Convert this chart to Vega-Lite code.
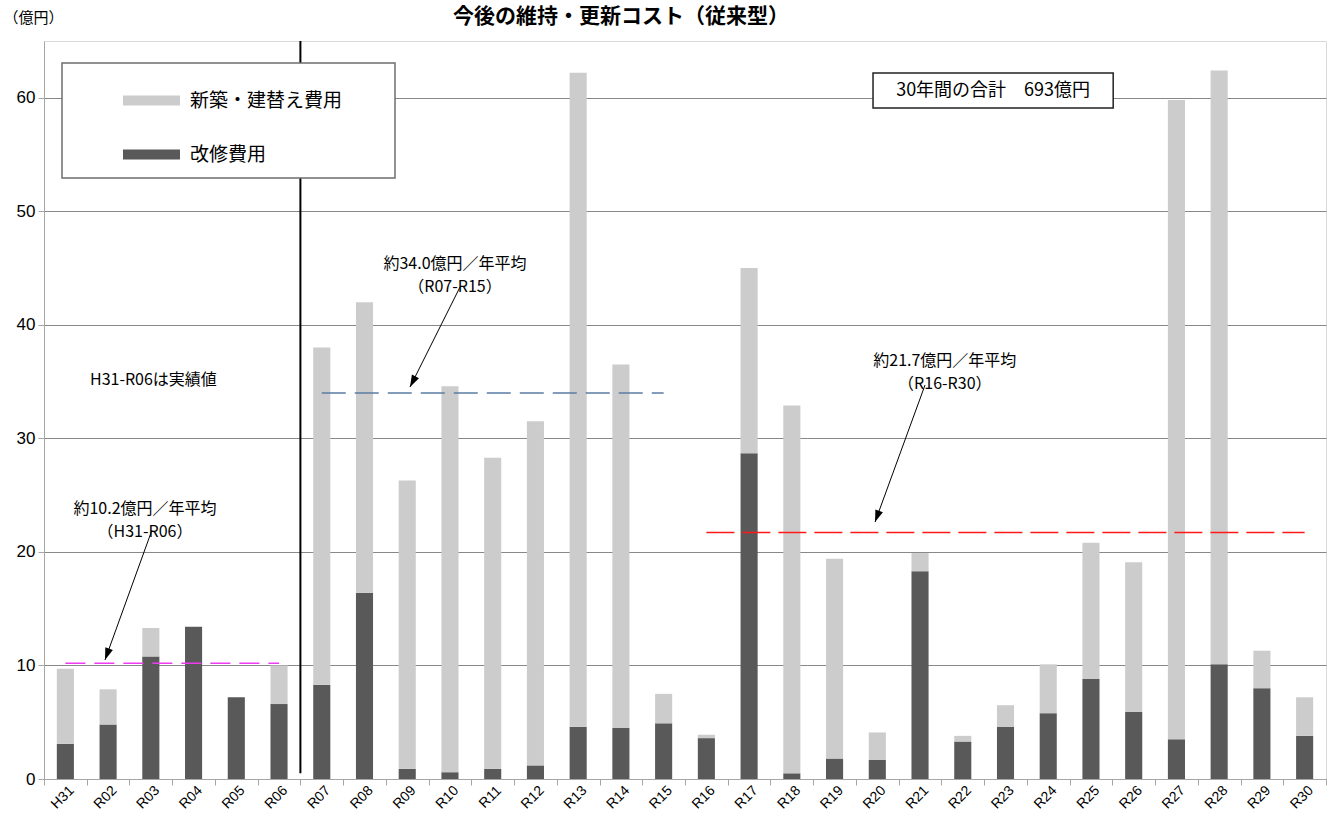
{
  "$schema": "https://vega.github.io/schema/vega-lite/v6.json",
  "width": 1282,
  "height": 738,
  "autosize": "none",
  "padding": {"left": 44, "top": 41, "right": 9, "bottom": 46},
  "background": "white",
  "config": {"view": {"stroke": "#d9d9d9", "strokeWidth": 1}, "font": "Noto Sans CJK JP"},
  "title": {"text": "今後の維持・更新コスト（従来型）", "font": "Noto Sans CJK JP", "fontSize": 21, "fontWeight": "bold", "anchor": "start", "frame": "group", "dx": 409, "offset": -17, "color": "#000000"},
  "resolve": {"scale": {"x": "independent"}, "axis": {"x": "independent"}},
  "layer": [
    {
      "data": {"values": [
        {"year": "H31", "kind": "改修費用", "value": 3.1}, {"year": "H31", "kind": "新築・建替え費用", "value": 6.6},
        {"year": "R02", "kind": "改修費用", "value": 4.8}, {"year": "R02", "kind": "新築・建替え費用", "value": 3.1},
        {"year": "R03", "kind": "改修費用", "value": 10.8}, {"year": "R03", "kind": "新築・建替え費用", "value": 2.5},
        {"year": "R04", "kind": "改修費用", "value": 13.4}, {"year": "R04", "kind": "新築・建替え費用", "value": 0},
        {"year": "R05", "kind": "改修費用", "value": 7.2}, {"year": "R05", "kind": "新築・建替え費用", "value": 0},
        {"year": "R06", "kind": "改修費用", "value": 6.6}, {"year": "R06", "kind": "新築・建替え費用", "value": 3.4},
        {"year": "R07", "kind": "改修費用", "value": 8.3}, {"year": "R07", "kind": "新築・建替え費用", "value": 29.7},
        {"year": "R08", "kind": "改修費用", "value": 16.4}, {"year": "R08", "kind": "新築・建替え費用", "value": 25.6},
        {"year": "R09", "kind": "改修費用", "value": 0.9}, {"year": "R09", "kind": "新築・建替え費用", "value": 25.4},
        {"year": "R10", "kind": "改修費用", "value": 0.6}, {"year": "R10", "kind": "新築・建替え費用", "value": 34.0},
        {"year": "R11", "kind": "改修費用", "value": 0.9}, {"year": "R11", "kind": "新築・建替え費用", "value": 27.4},
        {"year": "R12", "kind": "改修費用", "value": 1.2}, {"year": "R12", "kind": "新築・建替え費用", "value": 30.3},
        {"year": "R13", "kind": "改修費用", "value": 4.6}, {"year": "R13", "kind": "新築・建替え費用", "value": 57.6},
        {"year": "R14", "kind": "改修費用", "value": 4.5}, {"year": "R14", "kind": "新築・建替え費用", "value": 32.0},
        {"year": "R15", "kind": "改修費用", "value": 4.9}, {"year": "R15", "kind": "新築・建替え費用", "value": 2.6},
        {"year": "R16", "kind": "改修費用", "value": 3.6}, {"year": "R16", "kind": "新築・建替え費用", "value": 0.3},
        {"year": "R17", "kind": "改修費用", "value": 28.7}, {"year": "R17", "kind": "新築・建替え費用", "value": 16.3},
        {"year": "R18", "kind": "改修費用", "value": 0.5}, {"year": "R18", "kind": "新築・建替え費用", "value": 32.4},
        {"year": "R19", "kind": "改修費用", "value": 1.8}, {"year": "R19", "kind": "新築・建替え費用", "value": 17.6},
        {"year": "R20", "kind": "改修費用", "value": 1.7}, {"year": "R20", "kind": "新築・建替え費用", "value": 2.4},
        {"year": "R21", "kind": "改修費用", "value": 18.3}, {"year": "R21", "kind": "新築・建替え費用", "value": 1.6},
        {"year": "R22", "kind": "改修費用", "value": 3.3}, {"year": "R22", "kind": "新築・建替え費用", "value": 0.5},
        {"year": "R23", "kind": "改修費用", "value": 4.6}, {"year": "R23", "kind": "新築・建替え費用", "value": 1.9},
        {"year": "R24", "kind": "改修費用", "value": 5.8}, {"year": "R24", "kind": "新築・建替え費用", "value": 4.3},
        {"year": "R25", "kind": "改修費用", "value": 8.8}, {"year": "R25", "kind": "新築・建替え費用", "value": 12.0},
        {"year": "R26", "kind": "改修費用", "value": 5.9}, {"year": "R26", "kind": "新築・建替え費用", "value": 13.2},
        {"year": "R27", "kind": "改修費用", "value": 3.5}, {"year": "R27", "kind": "新築・建替え費用", "value": 56.3},
        {"year": "R28", "kind": "改修費用", "value": 10.1}, {"year": "R28", "kind": "新築・建替え費用", "value": 52.3},
        {"year": "R29", "kind": "改修費用", "value": 8.0}, {"year": "R29", "kind": "新築・建替え費用", "value": 3.3},
        {"year": "R30", "kind": "改修費用", "value": 3.8}, {"year": "R30", "kind": "新築・建替え費用", "value": 3.4}
      ]},
      "transform": [{"calculate": "datum.kind === '改修費用' ? 0 : 1", "as": "stackOrder"}],
      "layer": [
        {
          "mark": {"type": "bar", "strokeWidth": 0},
          "encoding": {
            "x": {
              "field": "year", "type": "nominal", "sort": null,
              "scale": {"paddingInner": 0.6, "paddingOuter": 0.3},
              "axis": {"title": null, "ticks": false, "grid": false, "labels": false, "domainColor": "#a6a6a6"}
            },
            "y": {
              "field": "value", "type": "quantitative", "stack": "zero",
              "scale": {"domain": [0, 65], "nice": false},
              "axis": {"title": "（億円）", "titleAngle": 0, "titleX": -11, "titleY": -24, "titleAlign": "center", "titleBaseline": "middle", "titleFont": "Noto Sans CJK JP", "titleFontSize": 15, "titleFontWeight": "normal", "titleColor": "#000000", "values": [0, 10, 20, 30, 40, 50, 60], "grid": true, "gridColor": "#888888", "gridWidth": 1, "domainColor": "#a6a6a6", "tickColor": "#a6a6a6", "tickSize": 6, "labelFont": "Liberation Sans", "labelFontSize": 17, "labelColor": "#000000", "labelPadding": 3}
            },
            "color": {
              "field": "kind", "type": "nominal",
              "scale": {"domain": ["新築・建替え費用", "改修費用"], "range": ["#cccccc", "#595959"]},
              "legend": {"orient": "none", "legendX": 79, "legendY": 31, "title": null, "symbolType": "M-1,-0.175L1,-0.175L1,0.175L-1,0.175Z", "symbolSize": 3249, "symbolStrokeWidth": 0, "symbolOpacity": 1, "labelFont": "Noto Sans CJK JP", "labelFontSize": 19, "labelColor": "#000000", "labelOffset": 10, "rowPadding": 15, "padding": 0}
            },
            "order": {"field": "stackOrder", "type": "quantitative"}
          }
        },
        {
          "transform": [{"filter": "datum.kind === '改修費用'"}],
          "mark": {"type": "text", "angle": 315, "align": "right", "baseline": "middle", "font": "Liberation Sans", "fontSize": 14, "color": "#000000"},
          "encoding": {
            "x": {"field": "year", "type": "nominal", "sort": null, "bandPosition": 0.88},
            "y": {"datum": -0.84, "type": "quantitative"},
            "text": {"field": "year"}
          }
        }
      ]
    },
    {
      "data": {"values": [{}]},
      "layer": [
        {
          "mark": {"type": "rule", "color": "#000000", "strokeWidth": 2},
          "encoding": {
            "x": {"datum": 6, "type": "quantitative", "scale": {"domain": [0, 30], "nice": false, "zero": false},
                  "axis": {"orient": "bottom", "values": [0,1,2,3,4,5,6,7,8,9,10,11,12,13,14,15,16,17,18,19,20,21,22,23,24,25,26,27,28,29,30], "labels": false, "domain": false, "grid": false, "ticks": true, "tickSize": 6, "tickColor": "#a6a6a6", "title": null}},
            "y": {"datum": 0.5, "type": "quantitative"},
            "y2": {"datum": 65}
          }
        },
        {
          "mark": {"type": "rule", "color": "#f03cf0", "strokeWidth": 1.5, "strokeDash": [20, 9]},
          "encoding": {"x": {"datum": 0.5, "type": "quantitative"}, "x2": {"datum": 5.5}, "y": {"datum": 10.2, "type": "quantitative"}}
        },
        {
          "mark": {"type": "rule", "color": "#5a7ca3", "strokeWidth": 1.5, "strokeDash": [24, 9]},
          "encoding": {"x": {"datum": 6.5, "type": "quantitative"}, "x2": {"datum": 14.5}, "y": {"datum": 34.0, "type": "quantitative"}}
        },
        {
          "mark": {"type": "rule", "color": "#ff1a1a", "strokeWidth": 1.5, "strokeDash": [28, 8]},
          "encoding": {"x": {"datum": 15.5, "type": "quantitative"}, "x2": {"datum": 29.5}, "y": {"datum": 21.7, "type": "quantitative"}}
        },
        {
          "mark": {"type": "rule", "color": "#000000", "strokeWidth": 1},
          "encoding": {"x": {"datum": 2.527, "type": "quantitative"}, "x2": {"datum": 1.427}, "y": {"datum": 21.93, "type": "quantitative"}, "y2": {"datum": 10.48}}
        },
        {
          "mark": {"type": "point", "shape": "M-1,-3L1,-3L0,0Z", "size": 64, "filled": true, "color": "#000000", "opacity": 1, "angle": 20},
          "encoding": {"x": {"datum": 1.427, "type": "quantitative"}, "y": {"datum": 10.48, "type": "quantitative"}}
        },
        {
          "mark": {"type": "rule", "color": "#000000", "strokeWidth": 1},
          "encoding": {"x": {"datum": 9.735, "type": "quantitative"}, "x2": {"datum": 8.565}, "y": {"datum": 43.33, "type": "quantitative"}, "y2": {"datum": 34.52}}
        },
        {
          "mark": {"type": "point", "shape": "M-1,-3L1,-3L0,0Z", "size": 64, "filled": true, "color": "#000000", "opacity": 1, "angle": 27},
          "encoding": {"x": {"datum": 8.565, "type": "quantitative"}, "y": {"datum": 34.52, "type": "quantitative"}}
        },
        {
          "mark": {"type": "rule", "color": "#000000", "strokeWidth": 1},
          "encoding": {"x": {"datum": 20.617, "type": "quantitative"}, "x2": {"datum": 19.447}, "y": {"datum": 34.70, "type": "quantitative"}, "y2": {"datum": 22.63}}
        },
        {
          "mark": {"type": "point", "shape": "M-1,-3L1,-3L0,0Z", "size": 64, "filled": true, "color": "#000000", "opacity": 1, "angle": 20},
          "encoding": {"x": {"datum": 19.447, "type": "quantitative"}, "y": {"datum": 22.63, "type": "quantitative"}}
        },
        {
          "mark": {"type": "text", "font": "Noto Sans CJK JP", "fontSize": 16, "color": "#000000", "align": "center", "baseline": "middle", "lineHeight": 23},
          "encoding": {"x": {"datum": 2.364, "type": "quantitative"}, "y": {"datum": 23.82, "type": "quantitative"}, "text": {"value": ["約10.2億円／年平均", "（H31-R06）"]}}
        },
        {
          "mark": {"type": "text", "font": "Noto Sans CJK JP", "fontSize": 16, "color": "#000000", "align": "center", "baseline": "middle", "lineHeight": 23},
          "encoding": {"x": {"datum": 9.618, "type": "quantitative"}, "y": {"datum": 45.40, "type": "quantitative"}, "text": {"value": ["約34.0億円／年平均", "（R07-R15）"]}}
        },
        {
          "mark": {"type": "text", "font": "Noto Sans CJK JP", "fontSize": 16, "color": "#000000", "align": "center", "baseline": "middle", "lineHeight": 23},
          "encoding": {"x": {"datum": 21.08, "type": "quantitative"}, "y": {"datum": 36.81, "type": "quantitative"}, "text": {"value": ["約21.7億円／年平均", "（R16-R30）"]}}
        },
        {
          "mark": {"type": "text", "font": "Noto Sans CJK JP", "fontSize": 16, "color": "#000000", "align": "left", "baseline": "middle"},
          "encoding": {"x": {"datum": 1.076, "type": "quantitative"}, "y": {"datum": 35.14, "type": "quantitative"}, "text": {"value": "H31-R06は実績値"}}
        },
        {
          "mark": {"type": "rect", "fill": "#ffffff", "stroke": "#6e6e6e", "strokeWidth": 1.5},
          "encoding": {"x": {"datum": 0.421, "type": "quantitative"}, "x2": {"datum": 8.214}, "y": {"datum": 63.06, "type": "quantitative"}, "y2": {"datum": 52.93}}
        },
        {
          "mark": {"type": "rect", "fill": "#ffffff", "stroke": "#222222", "strokeWidth": 1.5},
          "encoding": {"x": {"datum": 19.40, "type": "quantitative"}, "x2": {"datum": 25.02}, "y": {"datum": 62.18, "type": "quantitative"}, "y2": {"datum": 59.10}}
        },
        {
          "mark": {"type": "text", "font": "Noto Sans CJK JP", "fontSize": 18, "color": "#000000", "align": "center", "baseline": "middle"},
          "encoding": {"x": {"datum": 22.21, "type": "quantitative"}, "y": {"datum": 60.60, "type": "quantitative"}, "text": {"value": "30年間の合計　693億円"}}
        }
      ]
    }
  ]
}
